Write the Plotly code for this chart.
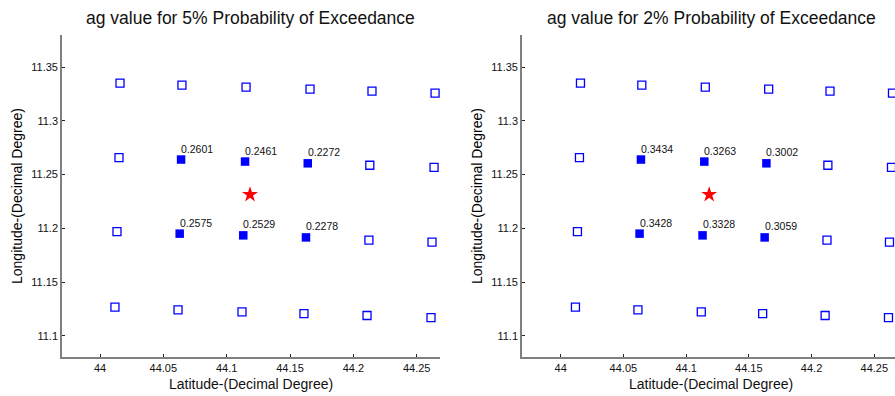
import plotly.graph_objects as go

# Grid points (latitude, longitude), row by row (top to bottom)
lat = [44.0158, 44.0647, 44.1153, 44.1658, 44.2147, 44.2645,
       44.0150, 44.0640, 44.1145, 44.1640, 44.2130, 44.2637,
       44.0134, 44.0629, 44.1131, 44.1626, 44.2123, 44.2621,
       44.0118, 44.0616, 44.1121, 44.1610, 44.2108, 44.2613]
lon = [11.3351, 11.3332, 11.3314, 11.3295, 11.3277, 11.3258,
       11.2658, 11.2640, 11.2621, 11.2605, 11.2587, 11.2568,
       11.1969, 11.1951, 11.1935, 11.1916, 11.1891, 11.1872,
       11.1267, 11.1242, 11.1223, 11.1208, 11.1190, 11.1171]

# Indices of the enclosing grid nodes (filled squares)
used_idx = [7, 8, 9, 13, 14, 15]
ag_5pct = ["0.2601", "0.2461", "0.2272", "0.2575", "0.2529", "0.2278"]
ag_2pct = ["0.3434", "0.3263", "0.3002", "0.3428", "0.3328", "0.3059"]

site_lat = [44.1184]
site_lon = [11.2314]

titles = ["ag value for 5% Probability of Exceedance",
          "ag value for 2% Probability of Exceedance"]
xtitle = "Latitude-(Decimal Degree)"
ytitle = "Longitude-(Decimal Degree)"
xticks = [44, 44.05, 44.1, 44.15, 44.2, 44.25]
xticklabels = ["44", "44.05", "44.1", "44.15", "44.2", "44.25"]
yticks = [11.1, 11.15, 11.2, 11.25, 11.3, 11.35]
yticklabels = ["11.1", "11.15", "11.2", "11.25", "11.3", "11.35"]

W, H = 895, 396
FONT = "Liberation Sans, Arial, sans-serif"
BLUE = "#0000FF"

fig = go.Figure()

open_idx = [i for i in range(len(lat)) if i not in used_idx]
panels = [("x", "y", ag_5pct), ("x2", "y2", ag_2pct)]
annotations = []
for xa, ya, vals in panels:
    fig.add_trace(go.Scatter(
        x=[lat[i] for i in open_idx], y=[lon[i] for i in open_idx],
        mode="markers", xaxis=xa, yaxis=ya, cliponaxis=False,
        marker=dict(symbol="square-open", size=8, color=BLUE,
                    line=dict(width=1.3, color=BLUE)),
        showlegend=False, hoverinfo="x+y"))
    fig.add_trace(go.Scatter(
        x=[lat[i] for i in used_idx], y=[lon[i] for i in used_idx],
        mode="markers", xaxis=xa, yaxis=ya, cliponaxis=False,
        marker=dict(symbol="square", size=8.5, color=BLUE),
        showlegend=False, hoverinfo="x+y"))
    fig.add_trace(go.Scatter(
        x=site_lat, y=site_lon, mode="markers", xaxis=xa, yaxis=ya,
        cliponaxis=False,
        marker=dict(symbol="star", size=12, color="#FF0000"),
        showlegend=False, hoverinfo="x+y"))
    for i, v in zip(used_idx, vals):
        annotations.append(dict(
            text=v, x=lat[i], y=lon[i], xref=xa, yref=ya,
            xanchor="left", yanchor="middle", xshift=-1, yshift=11,
            borderpad=0, showarrow=False,
            font=dict(family=FONT, size=10.5, color="#111")))

ax_common = dict(showgrid=False, zeroline=False, showline=True,
                 linecolor="#7f7f7f", linewidth=1.6, ticks="inside",
                 ticklen=3, tickwidth=1, tickcolor="#222",
                 tickfont=dict(family=FONT, size=11, color="#111"),
                 automargin=False, fixedrange=True)

yd = [(396 - 357) / H, (396 - 35) / H]
xd1 = [62 / W, 440 / W]
xd2 = [522 / W, 1.0]

fig.update_layout(
    width=W, height=H, margin=dict(l=0, r=0, t=0, b=0),
    paper_bgcolor="white", plot_bgcolor="white",
    xaxis=dict(domain=xd1, range=[43.970, 44.2684], anchor="y",
               tickvals=xticks, ticktext=xticklabels, **ax_common),
    yaxis=dict(domain=yd, range=[11.0804, 11.3798], anchor="x",
               tickvals=yticks, ticktext=yticklabels, **ax_common),
    xaxis2=dict(domain=xd2, range=[43.9692, 44.2665], anchor="y2",
                tickvals=xticks, ticktext=xticklabels, **ax_common),
    yaxis2=dict(domain=yd, range=[11.0804, 11.3798], anchor="x2",
                tickvals=yticks, ticktext=yticklabels, **ax_common),
)

for k, (xd, t) in enumerate([(xd1, titles[0]), (xd2, titles[1])]):
    axis_left_px = xd[0] * W
    axis_right_px = 440 if k == 0 else 900
    cx = (axis_left_px + axis_right_px) / 2 / W
    annotations.append(dict(text=t, x=cx, y=1 - 18 / H, xref="paper", yref="paper",
                            xanchor="center", yanchor="middle", showarrow=False,
                            font=dict(family=FONT, size=17.5, color="#111")))
    annotations.append(dict(text=xtitle, x=cx, y=1 - 384 / H, xref="paper", yref="paper",
                            xanchor="center", yanchor="middle", showarrow=False,
                            font=dict(family=FONT, size=14, color="#111")))
    annotations.append(dict(text=ytitle, x=(axis_left_px - 45) / W, y=1 - 196 / H,
                            xref="paper", yref="paper", textangle=-90,
                            xanchor="center", yanchor="middle", showarrow=False,
                            font=dict(family=FONT, size=14, color="#000")))
fig.update_layout(annotations=annotations)

fig.write_html("out.html", config={"displayModeBar": False})
